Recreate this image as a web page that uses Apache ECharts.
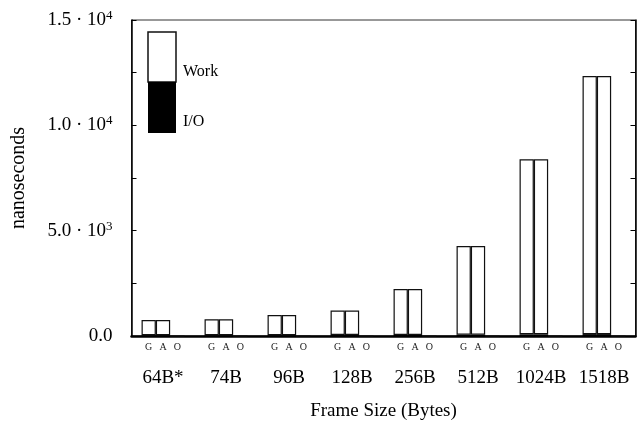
<!DOCTYPE html>
<html>
<head>
<meta charset="utf-8">
<script src="https://cdn.jsdelivr.net/npm/echarts@6/dist/echarts.min.js"></script>
<style>
html, body { margin: 0; padding: 0; background: #fff; }
#chart { width: 637px; height: 429px; }
</style>
</head>
<body>
<div id="chart"></div>
<script>
// frame sizes on the x axis
const frameSizes = ['64B*', '74B', '96B', '128B', '256B', '512B', '1024B', '1518B'];
// G, A, O variants per frame size (ns)
const gIO   = [40, 40, 40, 45, 50, 60, 80, 90];
const gWork = [720, 750, 960, 1160, 2180, 4210, 8310, 12250];
const aIO   = [40, 40, 40, 45, 50, 60, 80, 90];
const aWork = [720, 750, 960, 1160, 2180, 4210, 8310, 12250];
const oIO   = [0, 0, 0, 0, 0, 0, 0, 0];
const oWork = [0, 0, 0, 0, 0, 0, 0, 0];
const yTicks = { 0: '0.0', 5000: '{m|5.0 · 10}{s|3}', 10000: '{m|1.0 · 10}{s|4}', 15000: '{m|1.5 · 10}{s|4}' };

const serif = 'Liberation Serif';
const chart = echarts.init(document.getElementById('chart'));

function ioSeries(name, stack, data, letter) {
    return {
        name: name, type: 'bar', stack: stack, data: data,
        barWidth: 14.3, barGap: '0%',
        itemStyle: { color: '#000' },
        label: {
            show: true, position: 'bottom', distance: 6,
            formatter: letter, fontFamily: serif, fontSize: 10, color: '#222'
        }
    };
}
function workSeries(name, stack, data) {
    return {
        name: name, type: 'bar', stack: stack, data: data,
        barWidth: 14.3, barGap: '0%',
        itemStyle: { color: '#fff', borderColor: '#111', borderWidth: 1.2 }
    };
}

const option = {
    animation: false,
    grid: {
        left: 131.5, right: 1.5, top: 20, bottom: 93,
        outerBoundsMode: 'none', containLabel: false,
        show: true, borderColor: '#333', borderWidth: 1
    },
    xAxis: {
        type: 'category', data: frameSizes,
        name: 'Frame Size (Bytes)', nameLocation: 'middle', nameGap: 66,
        nameTextStyle: { fontFamily: serif, fontSize: 19, color: '#000' },
        axisLine: { lineStyle: { color: '#000', width: 2.5 } },
        axisTick: { inside: true, length: 10, lineStyle: { color: '#000', width: 1.5 } },
        axisLabel: { interval: 0, hideOverlap: false, margin: 33, fontFamily: serif, fontSize: 19, color: '#000' }
    },
    yAxis: [{
        type: 'value', min: 0, max: 15000, interval: 2500,
        name: 'nanoseconds', nameLocation: 'middle', nameGap: 103, nameRotate: 90,
        nameTextStyle: { fontFamily: serif, fontSize: 20, color: '#000' },
        axisLine: { show: true, lineStyle: { color: '#000', width: 1.5 } },
        axisTick: { show: true, inside: true, length: 5, lineStyle: { color: '#000' } },
        splitLine: { show: false },
        axisLabel: {
            margin: 19, color: '#000', fontFamily: serif, fontSize: 19,
            formatter: v => yTicks[v] || '',
            rich: {
                m: { fontFamily: serif, fontSize: 19, color: '#000' },
                s: { fontFamily: serif, fontSize: 13, color: '#000', padding: [0, 0, 9, 0] }
            }
        }
    }, {
        type: 'value', min: 0, max: 15000, interval: 2500, position: 'right',
        axisLine: { show: true, lineStyle: { color: '#000', width: 1.5 } },
        axisTick: { show: true, inside: true, length: 5, lineStyle: { color: '#000' } },
        splitLine: { show: false },
        axisLabel: { show: false }
    }],
    series: [
        ioSeries('G I/O', 'G', gIO, 'G'), workSeries('G Work', 'G', gWork),
        ioSeries('A I/O', 'A', aIO, 'A'), workSeries('A Work', 'A', aWork),
        ioSeries('O I/O', 'O', oIO, 'O'), workSeries('O Work', 'O', oWork)
    ],
    graphic: [
        { type: 'rect', shape: { x: 148, y: 32, width: 28, height: 50 }, style: { fill: '#fff', stroke: '#111', lineWidth: 1.5 } },
        { type: 'rect', shape: { x: 148, y: 82, width: 28, height: 51 }, style: { fill: '#000' } },
        { type: 'text', left: 183, top: 64, style: { text: 'Work', font: '16px "Liberation Serif"', fill: '#000' } },
        { type: 'text', left: 183, top: 114, style: { text: 'I/O', font: '16px "Liberation Serif"', fill: '#000' } }
    ]
};
chart.setOption(option);
</script>
</body>
</html>
